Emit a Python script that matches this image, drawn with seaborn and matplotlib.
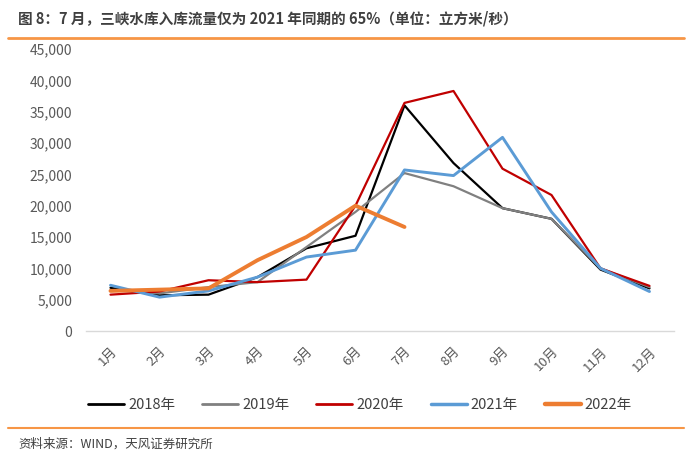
import matplotlib
matplotlib.use("Agg")
import matplotlib.pyplot as plt
from matplotlib.lines import Line2D
import seaborn as sns
import pandas as pd
import numpy as np

months = ["1月", "2月", "3月", "4月", "5月", "6月", "7月", "8月", "9月", "10月", "11月", "12月"]
years = ["2018年", "2019年", "2020年", "2021年", "2022年"]
v2018 = [6900, 5700, 5800, 8600, 13200, 15200, 36000, 26800, 19600, 17900, 9800, 6800]
v2019 = [6500, 6000, 7000, 7800, 13400, 19000, 25200, 23100, 19600, 17900, 10000, 7000]
v2020 = [5800, 6300, 8100, 7800, 8200, 20000, 36400, 38300, 25900, 21700, 10000, 7200]
v2021 = [7300, 5400, 6400, 8600, 11800, 12900, 25700, 24800, 30900, 19000, 10000, 6300]
v2022 = [6400, 6600, 6800, 11300, 15000, 20000, 16600]
yticks = [0, 5000, 10000, 15000, 20000, 25000, 30000, 35000, 40000, 45000]

colors = {"2018年": "#000000", "2019年": "#808080", "2020年": "#C00000",
          "2021年": "#5B9BD5", "2022年": "#ED7D31"}
widths = {"2018年": 1.6, "2019年": 1.6, "2020年": 1.6, "2021年": 2.1, "2022年": 2.8}

rows = []
for y, vals in zip(years, [v2018, v2019, v2020, v2021, v2022]):
    for i, v in enumerate(vals):
        rows.append({"year": y, "idx": i, "value": v})
df = pd.DataFrame(rows)

sns.set_theme(style="white")
plt.rcParams['font.family'] = ['Noto Sans CJK SC', 'DejaVu Sans']

fig = plt.figure(figsize=(7, 4.61), dpi=100)
ax = fig.add_axes([86/700, 1-331/461, (674-86)/700, (331-49)/461])

for y in years:
    sub = df[df["year"] == y]
    sns.lineplot(data=sub, x="idx", y="value", ax=ax, color=colors[y],
                 linewidth=widths[y], legend=False)

ax.set_xlim(-0.5, 11.5)
ax.set_ylim(0, 45000)
ax.set_yticks(yticks)
ax.set_yticklabels([f"{t:,}" for t in yticks], fontsize=10, color="#595959")
ax.set_xticks(range(12))
ax.set_xticklabels(months, rotation=45, ha="right", va="top", fontsize=9.5,
                   color="#595959", rotation_mode="anchor")
ax.set_xticks(np.arange(-0.5, 12, 1), minor=True)
ax.tick_params(axis="x", which="major", length=0, pad=10)
ax.tick_params(axis="x", which="minor", length=4, color="#D9D9D9", width=1, direction="out")
ax.tick_params(axis="y", length=0, pad=10)
ax.set_xlabel("")
ax.set_ylabel("")
for s in ["top", "right", "left"]:
    ax.spines[s].set_visible(False)
ax.spines["bottom"].set_color("#D9D9D9")
ax.spines["bottom"].set_linewidth(1)
ax.grid(False)

handles = [Line2D([0], [0], color=colors[y], linewidth=widths[y] + 0.4) for y in years]
fig.legend(handles, years, loc="center", bbox_to_anchor=(360/700, 1-405/461),
           ncol=5, frameon=False, fontsize=10.5, handlelength=2.47,
           handletextpad=0.27, columnspacing=1.85, labelcolor="#404040",
           borderpad=0, borderaxespad=0)

fig.text(18/700, 1-18/461, "图 8：7 月，三峡水库入库流量仅为 2021 年同期的 65%（单位：立方米/秒）",
         fontsize=10.5, fontweight="bold", color="#404040", va="center", ha="left")
fig.add_artist(Line2D([8/700, 684/700], [1-38/461, 1-38/461], color="#F79646", linewidth=2))
fig.add_artist(Line2D([8/700, 684/700], [1-428/461, 1-428/461], color="#F79646", linewidth=1.5))
fig.text(18/700, 1-444/461, "资料来源：WIND，天风证券研究所", fontsize=9,
         color="#404040", va="center", ha="left")

fig.savefig("out.png", dpi=100)
